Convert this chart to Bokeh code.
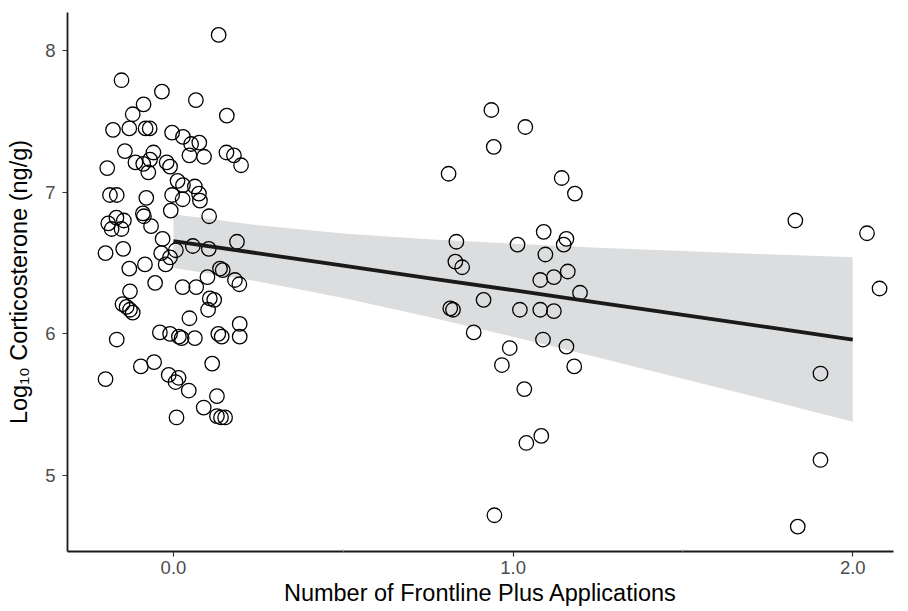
from bokeh.plotting import figure
from bokeh.models import FixedTicker, Range1d, ColumnDataSource
from bokeh.embed import file_html
from bokeh.resources import INLINE

# Jittered positions (number of applications) and log10 corticosterone
x_vals = [
    0.133, -0.153, -0.034, 0.066, -0.088, -0.12, 0.157, -0.178, -0.13, -0.082,
    -0.07, -0.004, 0.028, 0.052, 0.076, -0.143, -0.195, -0.112, -0.089, -0.069,
    -0.059, -0.074, -0.02, -0.01, 0.047, 0.09, 0.156, 0.178, 0.199, 0.012,
    0.028, 0.063, -0.004, 0.027, 0.075, 0.078, -0.187, -0.167, -0.08, -0.008,
    -0.09, -0.087, 0.105, -0.168, -0.146, -0.192, -0.182, -0.153, -0.066, -0.032,
    0.057, 0.104, 0.187, -0.148, -0.2, -0.036, -0.01, 0.007, -0.13, -0.084,
    -0.023, -0.054, 0.027, 0.067, 0.1, 0.137, 0.145, 0.181, 0.194, 0.107,
    0.12, 0.102, -0.128, -0.15, -0.138, -0.128, -0.12, 0.047, 0.195, 0.195,
    -0.04, -0.01, 0.016, 0.024, 0.063, 0.132, 0.142, -0.167, -0.096, -0.057,
    0.114, -0.2, -0.014, 0.015, 0.006, 0.045, 0.128, 0.089, 0.128, 0.14,
    0.152, 0.009,
    0.936, 1.036, 0.943, 0.81, 1.143, 1.182, 1.09, 0.833, 1.013, 1.157,
    1.149, 1.095, 0.83, 0.85, 1.161, 1.12, 1.08, 1.197, 0.913, 0.815,
    0.823, 1.02, 1.08, 1.12, 0.884, 1.088, 1.157, 0.99, 0.967, 1.18,
    1.033, 1.083, 1.039, 0.945,
    1.831, 2.042, 2.079, 1.905, 1.905, 1.838,
]
y_vals = [
    8.11, 7.79, 7.71, 7.65, 7.62, 7.55, 7.54, 7.44, 7.45, 7.45,
    7.45, 7.42, 7.39, 7.34, 7.35, 7.29, 7.17, 7.21, 7.20, 7.23,
    7.28, 7.14, 7.21, 7.18, 7.26, 7.25, 7.28, 7.26, 7.19, 7.08,
    7.05, 7.04, 6.98, 6.95, 6.99, 6.94, 6.98, 6.98, 6.96, 6.87,
    6.85, 6.83, 6.83, 6.82, 6.80, 6.78, 6.74, 6.74, 6.76, 6.67,
    6.62, 6.60, 6.65, 6.60, 6.57, 6.57, 6.54, 6.59, 6.46, 6.49,
    6.49, 6.36, 6.33, 6.33, 6.40, 6.46, 6.45, 6.38, 6.35, 6.25,
    6.24, 6.17, 6.30, 6.21, 6.19, 6.17, 6.15, 6.11, 6.07, 5.98,
    6.01, 6.00, 5.98, 5.97, 5.97, 6.00, 5.98, 5.96, 5.77, 5.80,
    5.79, 5.68, 5.71, 5.69, 5.66, 5.60, 5.56, 5.48, 5.42, 5.41,
    5.41, 5.41,
    7.58, 7.46, 7.32, 7.13, 7.10, 6.99, 6.72, 6.65, 6.63, 6.67,
    6.63, 6.56, 6.51, 6.47, 6.44, 6.40, 6.38, 6.29, 6.24, 6.18,
    6.17, 6.17, 6.17, 6.16, 6.01, 5.96, 5.91, 5.90, 5.78, 5.77,
    5.61, 5.28, 5.23, 4.72,
    6.80, 6.71, 6.32, 5.72, 5.11, 4.64,
]

# Fitted line and confidence band
fit_x = [0.0, 0.25, 0.5, 0.75, 1.0, 1.25, 1.5, 1.75, 2.0]
fit_y = [6.655, 6.568, 6.481, 6.394, 6.308, 6.221, 6.134, 6.047, 5.960]
band_upper = [6.845, 6.766, 6.709, 6.667, 6.636, 6.608, 6.584, 6.561, 6.540]
band_lower = [6.465, 6.370, 6.253, 6.121, 5.980, 5.834, 5.684, 5.533, 5.380]

x_ticks = [0, 1, 2]
x_tick_labels = ["0.0", "1.0", "2.0"]
y_ticks = [5, 6, 7, 8]
y_tick_labels = ["5", "6", "7", "8"]

FONT = "Liberation Sans"

p = figure(width=908, height=611, output_backend="svg", toolbar_location=None,
           x_range=Range1d(-0.312, 2.12), y_range=Range1d(4.464, 8.268),
           min_border_left=67, min_border_right=15, min_border_top=12,
           min_border_bottom=60)
p.outline_line_color = None
p.xgrid.visible = False
p.ygrid.visible = False
p.background_fill_color = "white"
p.border_fill_color = "white"

p.varea(x=fit_x, y1=band_lower, y2=band_upper, fill_color="#DCDDDE", fill_alpha=1.0)
p.scatter(x_vals, y_vals, size=14.5, fill_color=None, line_color="black", line_width=1.3)
p.line(fit_x, fit_y, line_color="#1A1A1A", line_width=3.8)

for ax in (p.xaxis[0], p.yaxis[0]):
    ax.axis_line_color = "#1A1A1A"
    ax.axis_line_width = 1.8
    ax.major_tick_line_color = "#333333"
    ax.major_tick_line_width = 1.2
    ax.major_tick_in = 0
    ax.major_tick_out = 5
    ax.major_label_text_font = FONT
    ax.major_label_text_font_size = "18.5px"
    ax.major_label_text_color = "#4D4D4D"
    ax.axis_label_text_font = FONT
    ax.axis_label_text_font_size = "23.5px"
    ax.axis_label_text_font_style = "normal"
    ax.axis_label_text_color = "black"

p.xaxis.ticker = FixedTicker(ticks=x_ticks, minor_ticks=[0.5, 1.5])
p.xaxis.major_label_overrides = {t: l for t, l in zip(x_ticks, x_tick_labels)}
p.xaxis.minor_tick_in = 2
p.xaxis.minor_tick_out = 0
p.xaxis.minor_tick_line_color = "#AAAAAA"
p.xaxis.major_label_standoff = 4
p.xaxis.axis_label_standoff = 3
p.xaxis.axis_label = "Number of Frontline Plus Applications"

p.yaxis.ticker = FixedTicker(ticks=y_ticks, minor_ticks=[])
p.yaxis.major_label_overrides = {t: l for t, l in zip(y_ticks, y_tick_labels)}
p.yaxis.major_label_standoff = 7
p.yaxis.axis_label_standoff = 10
p.yaxis.axis_label = "Log\u2081\u2080 Corticosterone (ng/g)"

open("out.html", "w").write(file_html(p, INLINE))
